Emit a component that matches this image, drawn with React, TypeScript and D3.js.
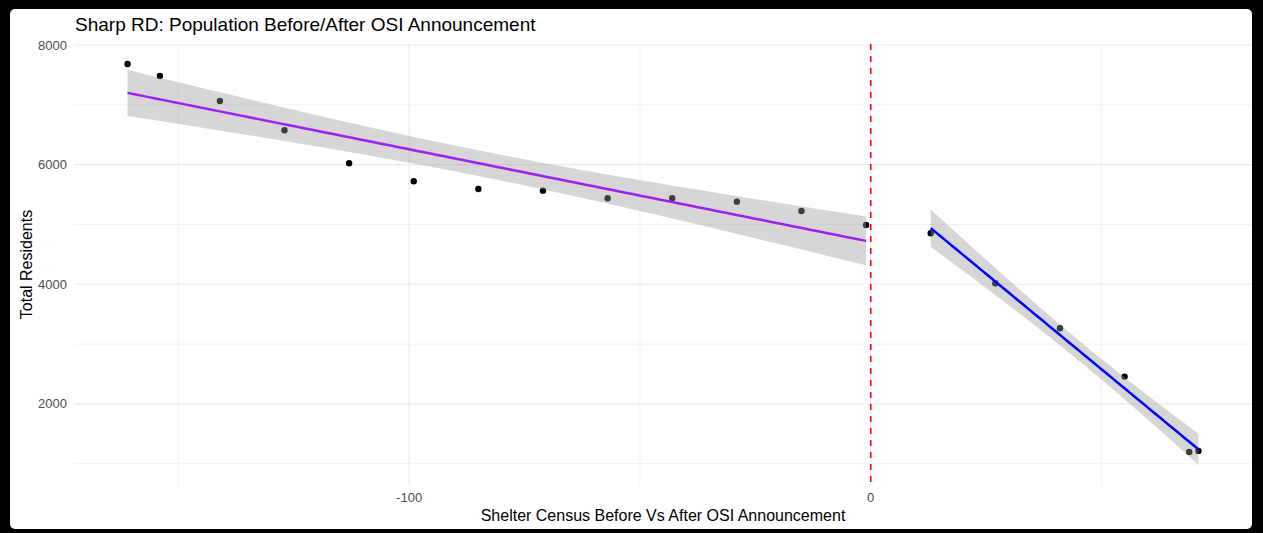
import { useEffect, useMemo } from 'react';
import * as d3 from 'd3';

// Days relative to the OSI announcement and the shelter census on those days
const beforeDays = [-161, -154, -141, -127, -113, -99, -85, -71, -57, -43, -29, -15, -1];
const beforeResidents = [7682, 7482, 7064, 6574, 6023, 5722, 5593, 5565, 5438, 5438, 5381, 5225, 4991];
const afterDays = [13, 27, 41, 55, 69, 71];
const afterResidents = [4853, 4017, 3265, 2456, 1197, 1214];

const xMajor = [-100, 0];
const xMinor = [-150, -50, 50];
const yMajor = [2000, 4000, 6000, 8000];
const yMinor = [1000, 3000, 5000, 7000];
const cutoff = 0;

// qt(0.975, df) for the two fits
const T975: Record<number, number> = { 4: 2.776, 11: 2.201 };

const W = 1263;
const H = 533;
const panel = { left: 74, right: 1252, top: 44, bottom: 485 };
const FONT = '"Liberation Sans", Arial, Helvetica, sans-serif';

interface FitPt {
  x: number;
  fit: number;
  lo: number;
  hi: number;
}

function lmFit(xs: number[], ys: number[], steps = 80): FitPt[] {
  const n = xs.length;
  const mx = d3.mean(xs)!;
  const my = d3.mean(ys)!;
  let sxx = 0;
  let sxy = 0;
  xs.forEach((x, i) => {
    sxx += (x - mx) ** 2;
    sxy += (x - mx) * (ys[i] - my);
  });
  const b = sxy / sxx;
  const a = my - b * mx;
  const rss = d3.sum(xs, (x, i) => (ys[i] - a - b * x) ** 2);
  const s = Math.sqrt(rss / (n - 2));
  const t = T975[n - 2];
  const [x0, x1] = d3.extent(xs) as [number, number];
  return d3.range(steps).map((k) => {
    const x = x0 + ((x1 - x0) * k) / (steps - 1);
    const fit = a + b * x;
    const se = s * Math.sqrt(1 / n + (x - mx) ** 2 / sxx);
    return { x, fit, lo: fit - t * se, hi: fit + t * se };
  });
}

function expand([lo, hi]: [number, number]): [number, number] {
  const pad = (hi - lo) * 0.05;
  return [lo - pad, hi + pad];
}

export default function App() {
  useEffect(() => {
    document.body.style.margin = '0';
  }, []);

  const { x, y, fits } = useMemo(() => {
    const fits = [
      { pts: lmFit(beforeDays, beforeResidents), color: '#A020F0' },
      { pts: lmFit(afterDays, afterResidents), color: '#0000FF' },
    ];
    const allX = [...beforeDays, ...afterDays];
    const allY = [
      ...beforeResidents,
      ...afterResidents,
      ...fits.flatMap((f) => f.pts.flatMap((p) => [p.lo, p.hi])),
    ];
    const x = d3
      .scaleLinear()
      .domain(expand(d3.extent(allX) as [number, number]))
      .range([panel.left, panel.right]);
    const y = d3
      .scaleLinear()
      .domain(expand(d3.extent(allY) as [number, number]))
      .range([panel.bottom, panel.top]);
    return { x, y, fits };
  }, []);

  const band = d3
    .area<FitPt>()
    .x((d) => x(d.x))
    .y0((d) => y(d.lo))
    .y1((d) => y(d.hi));
  const line = d3
    .line<FitPt>()
    .x((d) => x(d.x))
    .y((d) => y(d.fit));

  const points = [
    ...beforeDays.map((d, i) => [d, beforeResidents[i]]),
    ...afterDays.map((d, i) => [d, afterResidents[i]]),
  ];

  return (
    <svg width={W} height={H} style={{ display: 'block', fontFamily: FONT }}>
      {/* screenshot frame */}
      <rect width={W} height={H} fill="#000" />
      <rect x={10} y={9} width={1242} height={520} rx={5} fill="#fff" />

      {/* grid */}
      <g>
        {yMinor.map((v) => (
          <line key={'ym' + v} x1={panel.left} x2={panel.right} y1={y(v)} y2={y(v)} stroke="#ebebeb" strokeWidth={0.6} />
        ))}
        {xMinor.map((v) => (
          <line key={'xm' + v} x1={x(v)} x2={x(v)} y1={panel.top} y2={panel.bottom} stroke="#ebebeb" strokeWidth={0.6} />
        ))}
        {yMajor.map((v) => (
          <line key={'yM' + v} x1={panel.left} x2={panel.right} y1={y(v)} y2={y(v)} stroke="#ebebeb" strokeWidth={1.1} />
        ))}
        {xMajor.map((v) => (
          <line key={'xM' + v} x1={x(v)} x2={x(v)} y1={panel.top} y2={panel.bottom} stroke="#ebebeb" strokeWidth={1.1} />
        ))}
      </g>

      {/* observations */}
      {points.map(([d, r], i) => (
        <circle key={i} cx={x(d)} cy={y(r)} r={3.2} fill="#000" />
      ))}

      {/* lm fits with 95% bands */}
      {fits.map((f, i) => (
        <g key={i}>
          <path d={band(f.pts) || ''} fill="#999999" fillOpacity={0.4} />
          <path d={line(f.pts) || ''} fill="none" stroke={f.color} strokeWidth={2.5} />
        </g>
      ))}

      {/* cutoff */}
      <line
        x1={x(cutoff)}
        x2={x(cutoff)}
        y1={panel.top}
        y2={panel.bottom}
        stroke="#FF0000"
        strokeWidth={1.6}
        strokeDasharray="6,6"
      />

      {/* axes text */}
      {yMajor.map((v) => (
        <text key={v} x={67} y={y(v)} dy="0.35em" textAnchor="end" fontSize={13} fill="#4d4d4d">
          {v}
        </text>
      ))}
      {xMajor.map((v) => (
        <text key={v} x={x(v)} y={502} textAnchor="middle" fontSize={13} fill="#4d4d4d">
          {v}
        </text>
      ))}
      <text x={(panel.left + panel.right) / 2} y={521} textAnchor="middle" fontSize={16} fill="#000">
        Shelter Census Before Vs After OSI Announcement
      </text>
      <text transform={`translate(32,${(panel.top + panel.bottom) / 2}) rotate(-90)`} textAnchor="middle" fontSize={16} fill="#000">
        Total Residents
      </text>
      <text x={75} y={31} fontSize={19} fill="#000">
        Sharp RD: Population Before/After OSI Announcement
      </text>
    </svg>
  );
}
